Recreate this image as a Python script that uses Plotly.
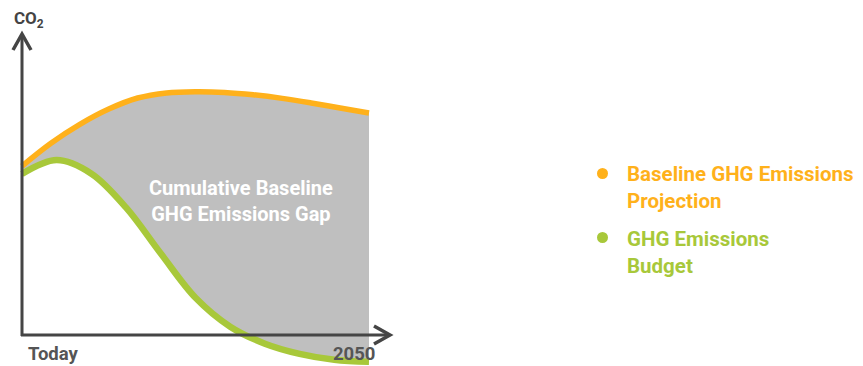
import plotly.graph_objects as go

# ---- data (years from today, CO2 index) ----
years = [0, 2.5, 5, 7.5, 10, 12.5, 15, 17.5, 20, 22.5, 25, 27.5, 30]
baseline = [99.4, 112.8, 123.9, 132.9, 139.4, 142.4, 143.1, 142.7, 141.3, 139.2, 136.5, 133.5, 130.6]
budget_years = [0, 3, 6, 9, 12, 15, 18, 21, 24, 27, 30]
budget = [94.7, 102.9, 94.9, 74.9, 47.9, 21.9, 4.9, -5.1, -11.1, -14.6, -15.8]
x_labels = ["Today", "2050"]
series_names = ["Baseline GHG Emissions<br>Projection", "GHG Emissions<br>Budget"]
gap_label = "Cumulative Baseline<br>GHG Emissions Gap"

OFF = 8  # page body margin
W, H = 863 - OFF, 366 - OFF
ORANGE = "#ffb11b"
GREEN = "#a8c83a"
GRAY = "#bfbfbf"
AXIS = "#454545"
FONT = "Roboto"


def px(x):
    return (x - OFF) / W


def py(y):
    return 1 - (y - OFF) / H


fig = go.Figure()
# fill between curves
fig.add_trace(go.Scatter(x=budget_years, y=budget, mode="lines",
                         line=dict(width=0, shape="spline", smoothing=1, color=GREEN),
                         hoverinfo="skip", showlegend=False))
fig.add_trace(go.Scatter(x=years, y=baseline, mode="lines", fill="tonexty",
                         fillcolor=GRAY, line=dict(width=0, shape="spline", smoothing=1, color=ORANGE),
                         hoverinfo="skip", showlegend=False))
# visible lines
fig.add_trace(go.Scatter(x=budget_years, y=budget, mode="lines",
                         line=dict(width=6.5, shape="spline", smoothing=1, color=GREEN),
                         showlegend=False))
fig.add_trace(go.Scatter(x=years, y=baseline, mode="lines",
                         line=dict(width=5.5, shape="spline", smoothing=1, color=ORANGE),
                         showlegend=False))

shapes = [
    dict(type="line", xref="paper", yref="paper", x0=px(22), x1=px(22), y0=py(336), y1=py(35),
         line=dict(color=AXIS, width=3)),
    dict(type="line", xref="paper", yref="paper", x0=px(21), x1=px(388), y0=py(335), y1=py(335),
         line=dict(color=AXIS, width=3)),
    dict(type="path", xref="paper", yref="paper",
         path=f"M {px(13)},{py(50)} L {px(22)},{py(34)} L {px(31)},{py(50)}",
         line=dict(color=AXIS, width=3.5)),
    dict(type="path", xref="paper", yref="paper",
         path=f"M {px(374)},{py(326)} L {px(390)},{py(335)} L {px(374)},{py(344)}",
         line=dict(color=AXIS, width=3.5)),
    dict(type="circle", xref="paper", yref="paper", x0=px(597), x1=px(608), y0=py(168), y1=py(179),
         fillcolor=ORANGE, line=dict(width=0)),
    dict(type="circle", xref="paper", yref="paper", x0=px(597), x1=px(608), y0=py(232), y1=py(243),
         fillcolor=GREEN, line=dict(width=0)),
]

annotations = [
    dict(text="<b>CO<sub>2</sub></b>", x=px(12), y=py(19), xref="paper", yref="paper",
         xanchor="left", yanchor="middle", showarrow=False,
         font=dict(family=FONT, size=17, color="#444444")),
    dict(text=f"<b>{x_labels[0]}</b>", x=px(27), y=py(366), xref="paper", yref="paper",
         xanchor="left", yanchor="bottom", showarrow=False, borderpad=0,
         font=dict(family=FONT, size=18.5, color="#555555")),
    dict(text=f"<b>{x_labels[1]}</b>", x=px(376), y=py(366), xref="paper", yref="paper",
         xanchor="right", yanchor="bottom", showarrow=False, borderpad=0,
         font=dict(family=FONT, size=18.5, color="#555555")),
    dict(text=f"<b>{gap_label}</b>", x=px(241), y=py(201), xref="paper", yref="paper",
         xanchor="center", yanchor="middle", showarrow=False, align="center",
         font=dict(family=FONT, size=20, color="white")),
    dict(text=f"<b>{series_names[0]}</b>", x=px(625), y=py(187), xref="paper", yref="paper",
         xanchor="left", yanchor="middle", showarrow=False, align="left",
         font=dict(family=FONT, size=20.5, color=ORANGE)),
    dict(text=f"<b>{series_names[1]}</b>", x=px(625), y=py(252.5), xref="paper", yref="paper",
         xanchor="left", yanchor="middle", showarrow=False, align="left",
         font=dict(family=FONT, size=20.5, color=GREEN)),
]

x_scale = 347 / 30.0
y_scale = 1.7
fig.update_layout(
    width=W, height=H, autosize=False,
    margin=dict(l=0, r=0, t=0, b=0),
    paper_bgcolor="white", plot_bgcolor="white",
    xaxis=dict(range=[(OFF - 22) / x_scale, (863 - 22) / x_scale], visible=False, fixedrange=True),
    yaxis=dict(range=[(335 - 366) / y_scale, (335 - OFF) / y_scale], visible=False, fixedrange=True),
    shapes=shapes, annotations=annotations, showlegend=False,
)

fig.write_html("out.html", config={"displayModeBar": False})
